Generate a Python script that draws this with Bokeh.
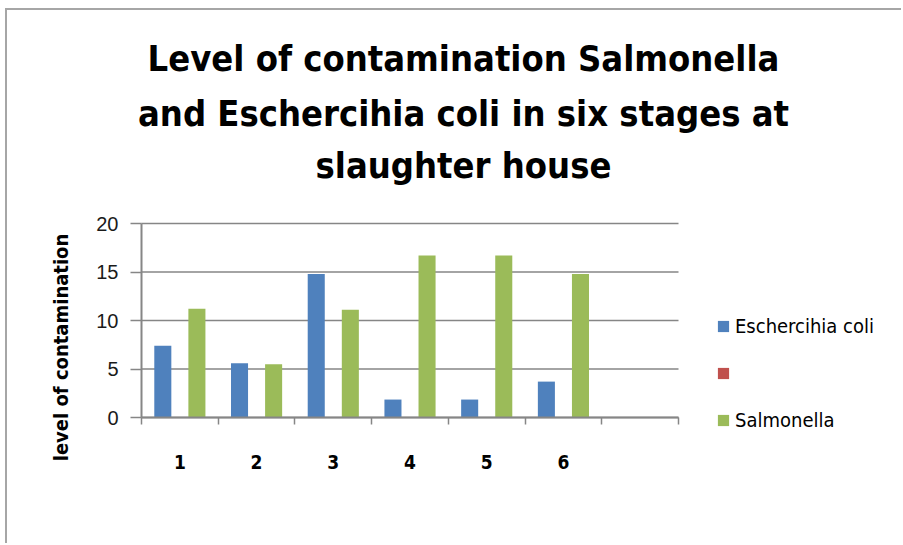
from bokeh.plotting import figure
from bokeh.models import (ColumnDataSource, FixedTicker, Label, Legend, LegendItem, Range1d)
from bokeh.embed import file_html
from bokeh.resources import INLINE
import math

# ---- data ----
stages = [1, 2, 3, 4, 5, 6, 7]
stage_labels = ["1", "2", "3", "4", "5", "6", ""]
ecoli = [7.4, 5.6, 14.8, 1.85, 1.85, 3.7, 0]
blank_series = [0, 0, 0, 0, 0, 0, 0]
salmonella = [11.2, 5.5, 11.1, 16.7, 16.7, 14.8, 0]
series_names = ["Eschercihia coli", " ", "Salmonella"]
series_colors = ["#4F81BD", "#C0504D", "#9BBB59"]
title_lines = ["Level of contamination Salmonella",
               "and Eschercihia coli in six stages at",
               "slaughter house"]
y_title = "level of contamination"
y_ticks = [0, 5, 10, 15, 20]

# ---- layout (canvas pixels) ----
OX, OY = 7, 10                 # canvas origin on the page
CW, CH = 903 - OX, 545 - OY    # canvas size
PL, PR = 141 - OX, 678 - OX    # plot area left/right (canvas x)
PT, PB = 223 - OY, 417 - OY    # plot area top/bottom (canvas y)
X0, X1 = 0.5, len(stages) + 0.5
Y0, Y1 = 0, 20
sx = (PR - PL) / (X1 - X0)
sy = (PB - PT) / (Y1 - Y0)
x_range = Range1d(X0 - PL / sx, X1 + (CW - PR) / sx)
y_range = Range1d(Y0 - (CH - PB) / sy, Y1 + PT / sy)

p = figure(width=CW, height=CH, output_backend="svg", toolbar_location=None,
           x_range=x_range, y_range=y_range,
           min_border=0, min_border_left=0, min_border_right=0,
           min_border_top=0, min_border_bottom=0)
p.outline_line_color = None
p.background_fill_color = "white"
p.border_fill_color = "white"
p.xgrid.visible = False
p.ygrid.visible = False
p.styles = {"margin-left": "5px", "margin-top": "8px",
            "border-left": "2px solid #a6a6a6", "border-top": "2px solid #a6a6a6"}

# gridlines at the y ticks, spanning the category range
p.segment(x0=[X0] * len(y_ticks), x1=[X1] * len(y_ticks), y0=y_ticks, y1=y_ticks,
          line_color="#868686", line_width=1.5)

bw = 1.0 / 4.5
offsets = [-bw, 0.0, bw]
all_series = [ecoli, blank_series, salmonella]
renderers = []
for vals, off, col in zip(all_series, offsets, series_colors):
    src = ColumnDataSource(dict(x=[s + off for s in stages], top=vals))
    r = p.vbar(x="x", top="top", width=bw, source=src, fill_color=col, line_color=None)
    renderers.append(r)

# y axis
yax = p.yaxis[0]
yax.fixed_location = X0
yax.bounds = (Y0, Y1)
yax.ticker = FixedTicker(ticks=y_ticks)
yax.axis_line_color = "#868686"
yax.axis_line_width = 2
yax.major_tick_out = 11
yax.major_tick_in = 0
yax.major_tick_line_color = "#868686"
yax.major_tick_line_width = 1.5
yax.minor_tick_line_color = None
yax.major_label_text_font = "Liberation Sans"
yax.major_label_text_font_size = "20px"
yax.major_label_text_color = "#1a1a1a"
yax.major_label_standoff = 12

# x axis
xax = p.xaxis[0]
xax.fixed_location = Y0
xax.bounds = (X0, X1)
xax.ticker = FixedTicker(ticks=stages[:6], minor_ticks=[s - 0.5 for s in stages] + [X1])
xax.major_label_overrides = {s: l for s, l in zip(stages, stage_labels)}
xax.axis_line_color = "#868686"
xax.axis_line_width = 2
xax.major_tick_line_color = None
xax.major_tick_out = 6
xax.minor_tick_line_color = "#868686"
xax.minor_tick_line_width = 1.5
xax.minor_tick_out = 7
xax.minor_tick_in = 0
xax.major_label_text_font = "DejaVu Sans Condensed"
xax.major_label_text_font_style = "bold"
xax.major_label_text_font_size = "19px"
xax.major_label_text_color = "black"
xax.major_label_standoff = 30

# title lines (canvas px, y measured up from the bottom)
title_cy = [58, 113, 165]
for t, ty in zip(title_lines, title_cy):
    p.add_layout(Label(x=463 - OX, y=CH - (ty - OY), x_units="screen", y_units="screen", text=t,
                       text_align="center", text_baseline="middle",
                       text_font="DejaVu Sans Condensed", text_font_style="bold",
                       text_font_size="36px", text_color="black"))

# y axis title
p.add_layout(Label(x=60 - OX, y=CH - (347 - OY), x_units="screen", y_units="screen", text=y_title,
                   angle=math.pi / 2, text_align="center", text_baseline="middle",
                   text_font="DejaVu Sans Condensed", text_font_style="bold",
                   text_font_size="20px", text_color="black"))

legend = Legend(items=[LegendItem(label=n, renderers=[r]) for n, r in zip(series_names, renderers)],
                location=(716 - OX, CH - (432 - OY)), orientation="vertical",
                glyph_width=14, glyph_height=14, label_height=20, spacing=25,
                label_text_font="DejaVu Sans Condensed", label_text_font_size="20px",
                label_text_color="black", label_standoff=5, label_text_baseline="middle",
                background_fill_alpha=0, border_line_color=None, padding=0, margin=0)
p.add_layout(legend)

open("out.html", "w").write(file_html(p, INLINE))
